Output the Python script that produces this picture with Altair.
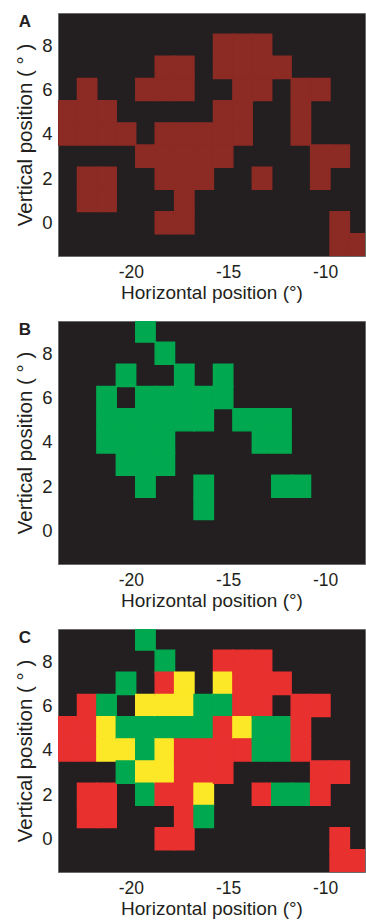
import altair as alt
import pandas as pd

# ---------------- data ----------------
# Horizontal centres (deg) of the 16 grid columns, vertical centres of the 11 rows
H_CENTERS = [-23.25, -22.25, -21.25, -20.25, -19.25, -18.25, -17.25, -16.25,
             -15.25, -14.25, -13.25, -12.25, -11.25, -10.25, -9.25, -8.25]
V_CENTERS = [9, 8, 7, 6, 5, 4, 3, 2, 1, 0, -1]

# Panel A: responsive cells, row (vertical position) -> horizontal positions
A_ROWS = {
    8: [-15.25, -14.25, -13.25],
    7: [-18.25, -17.25, -15.25, -14.25, -13.25, -12.25],
    6: [-22.25, -19.25, -18.25, -17.25, -14.25, -13.25, -11.25, -10.25],
    5: [-23.25, -22.25, -21.25, -15.25, -14.25, -11.25],
    4: [-23.25, -22.25, -21.25, -20.25, -18.25, -17.25, -16.25, -15.25, -14.25, -11.25],
    3: [-19.25, -18.25, -17.25, -16.25, -15.25, -10.25, -9.25],
    2: [-22.25, -21.25, -18.25, -17.25, -16.25, -13.25, -10.25],
    1: [-22.25, -21.25, -17.25],
    0: [-18.25, -17.25, -9.25],
    -1: [-9.25, -8.25],
}

# Panel B
B_ROWS = {
    9: [-19.25],
    8: [-18.25],
    7: [-20.25, -17.25, -15.25],
    6: [-21.25, -19.25, -18.25, -17.25, -16.25, -15.25],
    5: [-21.25, -20.25, -19.25, -18.25, -17.25, -16.25, -14.25, -13.25, -12.25],
    4: [-21.25, -20.25, -19.25, -18.25, -13.25, -12.25],
    3: [-20.25, -19.25, -18.25],
    2: [-19.25, -16.25, -12.25, -11.25],
    1: [-16.25],
}

X_TICKS = [-20, -15, -10]
Y_TICKS = [0, 2, 4, 6, 8]

# ---------------- styles ----------------
BG = "#231f20"
TEXT = "#231f20"
FONT = "Liberation Sans"
A_RED = "#8c2a24"
B_GREEN = "#00a84f"
C_RED = "#e8302f"
C_YELLOW = "#fde827"
C_GREEN = "#00a84f"


def cells(rows):
    return [(h, v) for v, hs in rows.items() for h in hs]


a_cells = cells(A_ROWS)
b_cells = cells(B_ROWS)
a_set, b_set = set(a_cells), set(b_cells)

df_a = pd.DataFrame([{"h": h, "v": v, "kind": "A"} for h, v in a_cells])
df_b = pd.DataFrame([{"h": h, "v": v, "kind": "B"} for h, v in b_cells])
c_rows = []
for h in H_CENTERS:
    for v in V_CENTERS:
        ina, inb = (h, v) in a_set, (h, v) in b_set
        if ina and inb:
            c_rows.append({"h": h, "v": v, "kind": "both"})
        elif ina:
            c_rows.append({"h": h, "v": v, "kind": "A only"})
        elif inb:
            c_rows.append({"h": h, "v": v, "kind": "B only"})
df_c = pd.DataFrame(c_rows)

W, H = 307, 243


def panel(df, domain, rng, letter):
    cscale = alt.Scale(domain=domain, range=rng)
    rect = (
        alt.Chart(df)
        .transform_calculate(
            x0="datum.h - 0.5", x1="datum.h + 0.5",
            y0="datum.v - 0.5", y1="datum.v + 0.5",
        )
        .mark_rect(clip=True, strokeWidth=1.4, opacity=1, strokeOpacity=1,
                   fillOpacity=1)
        .encode(
            x=alt.X(
                "x0:Q",
                scale=alt.Scale(domain=[-23.75, -7.95], nice=False, zero=False),
                axis=alt.Axis(values=X_TICKS, title="Horizontal position (°)",
                              labelExpr="datum.value + ''",
                              labelFontSize=17.5, titlePadding=3),
            ),
            x2="x1:Q",
            y=alt.Y(
                "y0:Q",
                scale=alt.Scale(domain=[-1.5, 9.45], nice=False, zero=False),
                axis=alt.Axis(values=Y_TICKS, title="Vertical position ( ° )",
                              labelFontSize=18.5, titleFontSize=20.5,
                              titlePadding=6, labelPadding=6),
            ),
            y2="y1:Q",
            color=alt.Color("kind:N", scale=cscale, legend=None),
            stroke=alt.Stroke("kind:N", scale=cscale, legend=None),
        )
    )
    txt = (
        alt.Chart(pd.DataFrame({"letter": [letter]}))
        .mark_text(font=FONT, fontSize=17, fontWeight="bold", color=TEXT,
                   align="center", baseline="middle")
        .encode(x=alt.value(-33), y=alt.value(9), text="letter:N")
    )
    return alt.layer(rect, txt).properties(width=W, height=H)


pa = panel(df_a, ["A"], [A_RED], "A")
pb = panel(df_b, ["B"], [B_GREEN], "B")
pc = panel(df_c, ["A only", "B only", "both"], [C_RED, C_GREEN, C_YELLOW], "C")

chart = (
    alt.vconcat(pa, pb, pc, spacing=17)
    .resolve_scale(color="independent", stroke="independent")
    .properties(padding={"left": 15, "top": 12, "right": 0, "bottom": 0},
                background="white")
    .configure_view(fill=BG, stroke="#6b6b6b", strokeWidth=1)
    .configure_axis(
        labelFont=FONT, titleFont=FONT, labelColor=TEXT, titleColor=TEXT,
        labelFontSize=18, titleFontSize=19, titleFontWeight="normal",
        grid=False, ticks=False, domain=False, labelPadding=7,
    )
)

chart.save("out.html", embed_options={"renderer": "svg", "actions": False})
